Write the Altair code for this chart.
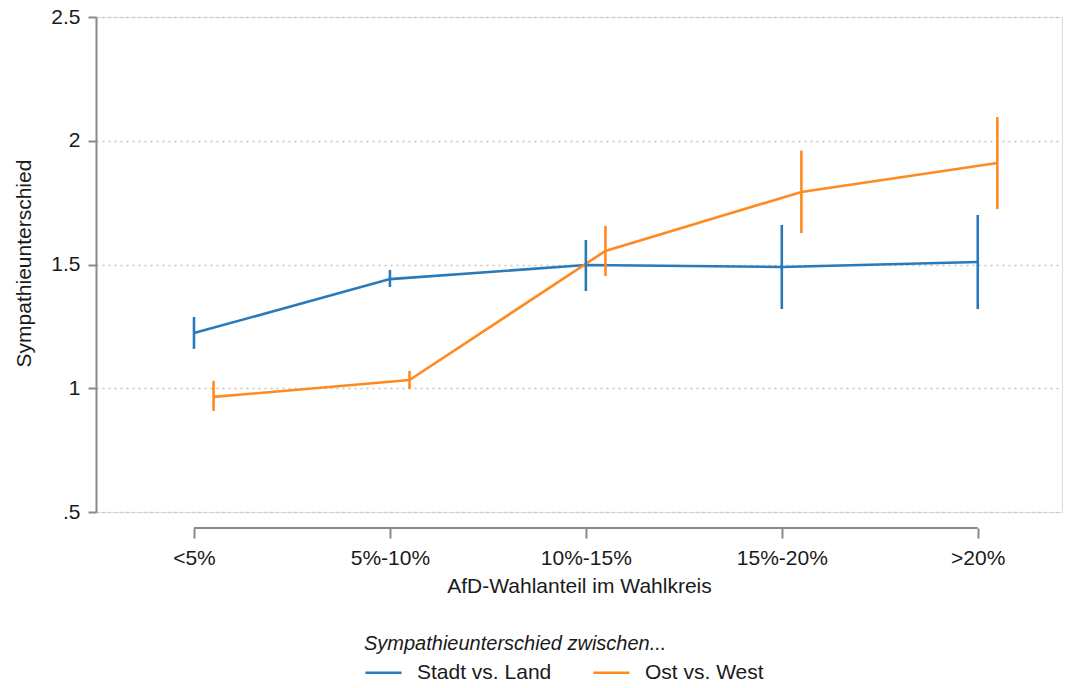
import altair as alt
import pandas as pd

categories = ["<5%", "5%-10%", "10%-15%", "15%-20%", ">20%"]
series_names = ["Stadt vs. Land", "Ost vs. West"]

stadt_est = [1.223, 1.441, 1.498, 1.490, 1.510]
stadt_lo = [1.159, 1.409, 1.393, 1.320, 1.320]
stadt_hi = [1.288, 1.478, 1.599, 1.660, 1.700]

ost_est = [0.965, 1.033, 1.555, 1.793, 1.910]
ost_lo = [0.908, 0.997, 1.454, 1.627, 1.724]
ost_hi = [1.030, 1.070, 1.656, 1.960, 2.096]

offsets = {"Stadt vs. Land": 0.0, "Ost vs. West": 0.1}
colors = ["#2a7ab9", "#ff8a1f"]

rows = []
for name, est, lo, hi in [
    (series_names[0], stadt_est, stadt_lo, stadt_hi),
    (series_names[1], ost_est, ost_lo, ost_hi),
]:
    for i, cat in enumerate(categories):
        rows.append({"series": name, "cat": cat, "xpos": i + 1 + offsets[name],
                     "est": est[i], "lo": lo[i], "hi": hi[i]})
df = pd.DataFrame(rows)

axis_df = pd.DataFrame([{"x1": 1, "x2": len(categories)}])

FONT = "Liberation Sans"
TXT = "#1a1a1a"
GRAY = "#8a8a8a"
FS = 21

label_map = "{" + ",".join(f"{i+1}:'{c}'" for i, c in enumerate(categories)) + "}"

xscale = alt.Scale(domain=[0.5, 5.43], nice=False, zero=False)
yscale = alt.Scale(domain=[0.5, 2.5], nice=False, zero=False)

legend = alt.Legend(
    title="Sympathieunterschied zwischen...",
    orient="none", legendX=268, legendY=617, direction="horizontal",
    titleFontStyle="italic", titleFontWeight="normal", titleFontSize=20,
    titleFont=FONT, titleColor=TXT, titleAnchor="start", titlePadding=-1,
    titleLimit=800, labelLimit=400,
    labelFontSize=FS, labelFont=FONT, labelColor=TXT, labelOffset=14,
    symbolType="stroke", symbolSize=1300, symbolStrokeWidth=2.5,
    columnPadding=36, padding=0,
)
color_scale = alt.Scale(domain=series_names, range=colors)

x = alt.X(
    "xpos:Q", scale=xscale,
    axis=alt.Axis(
        values=[1, 2, 3, 4, 5], labelExpr=f"{label_map}[datum.value]",
        domain=False, grid=False, offset=16, tickSize=10, tickWidth=2,
        tickColor=GRAY, labelPadding=9, labelFontSize=FS, labelFont=FONT,
        labelColor=TXT, title="AfD-Wahlanteil im Wahlkreis", titleFontSize=FS,
        titleFont=FONT, titleColor=TXT, titleFontWeight="normal", titlePadding=7,
    ),
)
y = alt.Y(
    "est:Q", scale=yscale,
    axis=alt.Axis(
        values=[0.5, 1, 1.5, 2, 2.5],
        labelExpr="datum.value == 0.5 ? '.5' : format(datum.value, '~g')",
        domainColor=GRAY, domainWidth=2, tickColor=GRAY, tickWidth=2, tickSize=8,
        labelPadding=8, labelFontSize=FS, labelFont=FONT, labelColor=TXT,
        grid=True, gridDash=[2, 4], gridColor="#c4c4c4", gridWidth=1.5,
        title="Sympathieunterschied", titleFontSize=FS, titleFont=FONT,
        titleColor=TXT, titleFontWeight="normal",
        titleX=-72, titleY=246, titleAngle=270, titleAlign="center",
        titleBaseline="middle",
    ),
)

lines = alt.Chart(df).mark_line(strokeWidth=2.6).encode(
    x=x, y=y,
    color=alt.Color("series:N", scale=color_scale, legend=legend),
    detail="series:N", order="xpos:Q",
)
bars = alt.Chart(df).mark_rule(strokeWidth=2.6).encode(
    x=alt.X("xpos:Q", scale=xscale),
    y=alt.Y("lo:Q", scale=yscale),
    y2="hi:Q",
    color=alt.Color("series:N", scale=color_scale, legend=None),
)
xaxis_line = alt.Chart(axis_df).mark_rule(color=GRAY, strokeWidth=2, clip=False).encode(
    x=alt.X("x1:Q", scale=xscale),
    x2="x2:Q",
    y=alt.value(511),
)

chart = alt.layer(lines, bars, xaxis_line).resolve_legend(color="independent").properties(
    width=966, height=495,
    autosize=alt.AutoSizeParams(type="none"),
    padding={"left": 88, "top": 9, "right": 1, "bottom": 168},
).configure_view(stroke=None).configure(background="white")

chart.save("out.html", embed_options={"renderer": "svg", "actions": False})
